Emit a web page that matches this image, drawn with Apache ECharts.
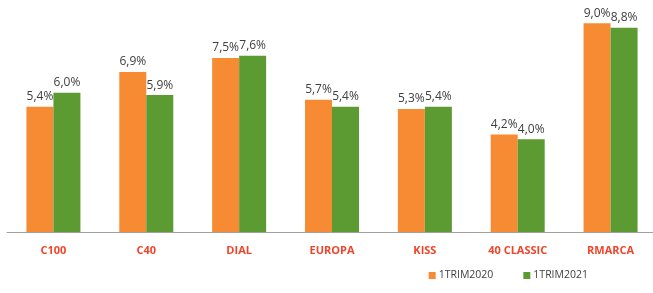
<!DOCTYPE html>
<html style="height: 100%">
<head>
  <meta charset="utf-8">
</head>
<body style="height: 100%; margin: 0">
  <div id="container" style="width:653px;height:293px"></div>
  <script type="text/javascript" src="https://fastly.jsdelivr.net/npm/echarts@6.0.0/dist/echarts.min.js"></script>
  <script type="text/javascript">
    var categories = ['C100', 'C40', 'DIAL', 'EUROPA', 'KISS', '40 CLASSIC', 'RMARCA'];
    var trim2020 = [5.4, 6.9, 7.5, 5.7, 5.3, 4.2, 9.0];
    var trim2021 = [6.0, 5.9, 7.6, 5.4, 5.4, 4.0, 8.8];

    var myChart = echarts.init(document.getElementById('container'), null, { renderer: 'canvas' });

    function fmt(p) {
      return p.value.toFixed(1).replace('.', ',') + '%';
    }

    var labelStyle = {
      show: true,
      position: 'top',
      distance: 4,
      formatter: fmt,
      fontFamily: 'Open Sans',
      fontSize: 12,
      color: '#404040'
    };

    var option = {
      animation: false,
      grid: { left: 7, right: -4, top: 0, bottom: 61, containLabel: false, outerBoundsMode: 'none' },
      legend: {
        right: 60,
        bottom: 7,
        itemWidth: 7,
        itemHeight: 7,
        itemGap: 30,
        icon: 'rect',
        textStyle: { fontFamily: 'Open Sans', fontSize: 10.5, color: '#404040', padding: [0, 0, 0, -2] }
      },
      xAxis: {
        type: 'category',
        data: categories,
        axisLine: { lineStyle: { color: '#a0a0a0', width: 1 } },
        axisTick: { show: false },
        axisLabel: {
          margin: 13,
          fontFamily: 'Open Sans',
          fontWeight: 'bold',
          fontSize: 11,
          color: '#f0452b'
        }
      },
      yAxis: {
        type: 'value',
        min: 0,
        max: 10,
        show: false,
        splitLine: { show: false }
      },
      series: [
        {
          name: '1TRIM2020',
          type: 'bar',
          data: trim2020,
          barWidth: 27,
          barGap: '0%',
          itemStyle: { color: '#f68b33' },
          label: labelStyle
        },
        {
          name: '1TRIM2021',
          type: 'bar',
          data: trim2021,
          barWidth: 27,
          barGap: '0%',
          itemStyle: { color: '#5b9b32' },
          label: labelStyle
        }
      ]
    };

    myChart.setOption(option);
    window.addEventListener('resize', myChart.resize);
  </script>
</body>
</html>
